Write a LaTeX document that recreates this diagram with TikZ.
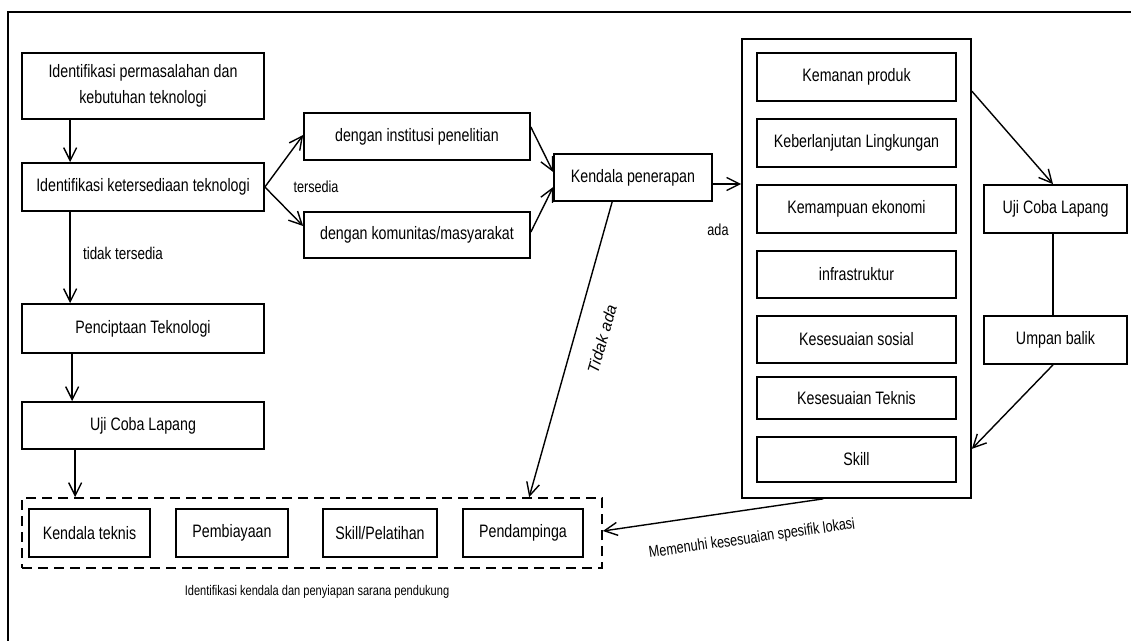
\documentclass[tikz,border=0pt]{standalone}
\usepackage{fontspec}
\setmainfont{Liberation Sans}[FakeStretch=0.79]
\newfontfamily\plainsans{Liberation Sans}
\usetikzlibrary{arrows.meta,calc}
\begin{document}
\begin{tikzpicture}[x=1pt,y=-1pt,
  box/.style={draw,line width=1.7pt,inner sep=0pt,align=center,font=\fontsize{18}{26}\selectfont},
  dbox/.style={draw,line width=1.7pt,inner sep=0pt,dash pattern=on 10pt off 6pt},
  arr/.style={line width=1.4pt,-{Straight Barb[length=13pt,width=13pt,line width=1.4pt]}},
  conn/.style={line width=1.4pt},
  lbl/.style={inner sep=0pt,font=\fontsize{16}{19}\selectfont}]
\useasboundingbox (0,0) rectangle (1131,641);
% frame
\coordinate (ftl) at (8,12);
\coordinate (ftr) at (1131,12);
\coordinate (fbl) at (8,641);
\draw[line width=1.5pt] (ftr) -- (ftl) -- (fbl);
% left column
\node[box,minimum width=242pt,minimum height=66pt] (A) at (143,86) {Identifikasi permasalahan dan\\kebutuhan teknologi};
\node[box,minimum width=242pt,minimum height=48pt] (B) at (143,187) {Identifikasi ketersediaan teknologi};
\node[box,minimum width=242pt,minimum height=49pt] (C) at (143,328.5) {Penciptaan Teknologi};
\node[box,minimum width=242pt,minimum height=47pt] (D) at (143,425.5) {Uji Coba Lapang};
% dashed group
\node[dbox,minimum width=580pt,minimum height=70pt] (DB) at (312,533) {};
\node[box,minimum width=121pt,minimum height=48pt] (KT) at (89.5,533) {Kendala teknis};
\node[box,minimum width=112pt,minimum height=48pt] (PB) at (232,533) {Pembiayaan};
\node[box,minimum width=114pt,minimum height=48pt] (SP) at (380,533) {Skill/Pelatihan};
\node[box,minimum width=120pt,minimum height=48pt] (PD) at (523,533) {Pendampinga};
\node[lbl,font=\fontsize{14}{16}\selectfont] (cap) at (317,592) {Identifikasi kendala dan penyiapan sarana pendukung};
% middle
\node[box,minimum width=226pt,minimum height=47pt] (INS) at (417,136.5) {dengan institusi penelitian};
\node[box,minimum width=226pt,minimum height=46pt] (KOM) at (417,235) {dengan komunitas/masyarakat};
\node[box,minimum width=158pt,minimum height=47pt] (KP) at (633,177.5) {Kendala penerapan};
% big box
\node[box,minimum width=229pt,minimum height=459pt] (BIG) at (856.5,268.5) {};
\node[box,minimum width=199pt,minimum height=48pt] (K1) at (856.5,77) {Kemanan produk};
\node[box,minimum width=199pt,minimum height=48pt] (K2) at (856.5,143) {Keberlanjutan Lingkungan};
\node[box,minimum width=199pt,minimum height=48pt] (K3) at (856.5,209) {Kemampuan ekonomi};
\node[box,minimum width=199pt,minimum height=47pt] (K4) at (856.5,274.5) {infrastruktur};
\node[box,minimum width=199pt,minimum height=47pt] (K5) at (856.5,339.5) {Kesesuaian sosial};
\node[box,minimum width=199pt,minimum height=42pt] (K6) at (856.5,398) {Kesesuaian Teknis};
\node[box,minimum width=199pt,minimum height=45pt] (K7) at (856.5,459.5) {Skill};
% right
\node[box,minimum width=143pt,minimum height=48pt] (U2) at (1055.5,209) {Uji Coba Lapang};
\node[box,minimum width=143pt,minimum height=48pt] (UB) at (1055.5,340) {Umpan balik};
% connectors
\draw[arr] ([xshift=49pt]A.south west) -- ([xshift=49pt]B.north west);
\draw[arr] ([xshift=49pt]B.south west) -- ([xshift=49pt]C.north west);
\draw[arr] ([xshift=51pt]C.south west) -- ([xshift=51pt]D.north west);
\draw[arr] ([xshift=54pt]D.south west) -- ([xshift=54pt]DB.north west);
\draw[arr] (B.east) -- ([yshift=1.5pt]INS.west);
\draw[arr] (B.east) -- ([yshift=9pt]KOM.west);
\draw[arr] ([yshift=9.5pt]INS.east) -- ([yshift=5.5pt]KP.west);
\draw[arr] ([yshift=3pt]KOM.east) -- ([yshift=-9.5pt]KP.west);
\draw[arr] ([yshift=-6.5pt]KP.east) -- ([yshift=-6.5pt]KP.east -| BIG.west);
\draw[arr] ([xshift=59pt]KP.south west) -- ([xshift=508pt]DB.north west);
\draw[arr] ([yshift=-53pt]BIG.north east) -- ([xshift=-2.5pt]U2.north);
\draw[conn] ([xshift=-2.5pt]U2.south) -- ([xshift=-2.5pt]UB.north);
\draw[arr] ([xshift=-2.5pt]UB.south) -- ([yshift=50pt]BIG.south east);
\draw[arr] ([xshift=82pt]BIG.south west) -- ([yshift=2pt]DB.east);
% labels
\node[lbl] (l1) at (316,187) {tersedia};
\node[lbl,font=\fontsize{17}{19}\selectfont] (l2) at (123,253) {tidak tersedia};
\node[lbl] (l3) at (718,230) {ada};
\node[lbl,font=\plainsans\itshape\fontsize{16}{19}\selectfont,rotate=74] (l4) at (602,339) {Tidak ada};
\node[lbl,rotate=8] (l5) at (752,539) {Memenuhi kesesuaian spesifik lokasi};
\end{tikzpicture}
\end{document}
